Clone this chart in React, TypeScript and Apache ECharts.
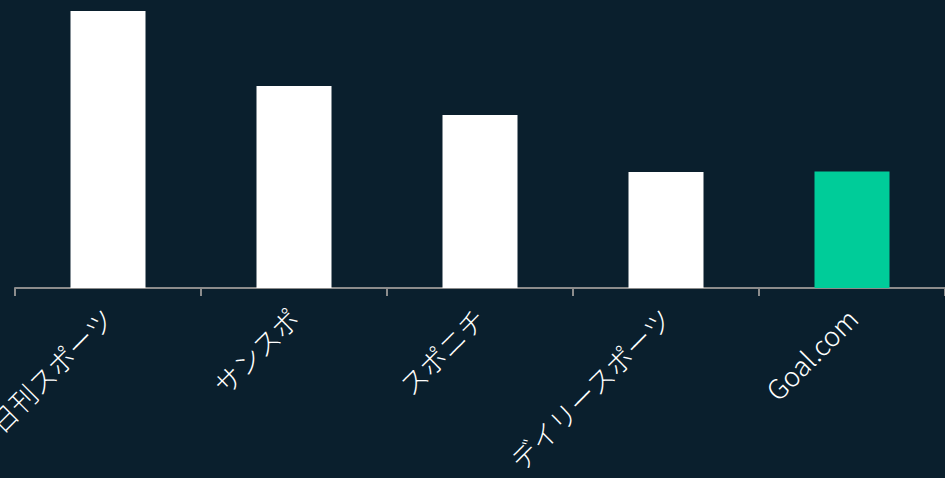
import React, { useEffect, useRef } from "react";
import * as echarts from "echarts";

const categories = ["日刊スポーツ", "サンスポ", "スポニチ", "デイリースポーツ", "Goal.com"];
const values = [277, 202, 173, 116, 116.5];
const highlightIndex = 4;

export default function App() {
  const ref = useRef<HTMLDivElement>(null);
  useEffect(() => {
    document.body.style.margin = "0";
    document.body.style.background = "#0a1f2d";
    const chart = echarts.init(ref.current!, null, { renderer: "svg" });
    chart.setOption({
      animation: false,
      backgroundColor: "#0a1f2d",
      grid: {
        left: 15,
        right: 0,
        top: 11,
        bottom: 190,
        containLabel: false,
        outerBoundsMode: "none",
      },
      xAxis: {
        type: "category",
        data: categories,
        axisLine: { lineStyle: { color: "#8c8c8c", width: 2 } },
        axisTick: { show: true, length: 8, lineStyle: { color: "#8c8c8c", width: 2 } },
        axisLabel: {
          rotate: 45,
          interval: 0,
          color: "#ffffff",
          fontSize: 27,
          fontWeight: 300,
          margin: 25,
          fontFamily: "'Noto Sans CJK JP', 'Noto Sans', sans-serif",
        },
      },
      yAxis: {
        type: "value",
        min: 0,
        max: 277,
        show: false,
        splitLine: { show: false },
      },
      series: [
        {
          type: "bar",
          barWidth: 75,
          data: values.map((v, i) => ({
            value: v,
            itemStyle: { color: i === highlightIndex ? "#00cc99" : "#ffffff" },
          })),
        },
      ],
    });
    return () => chart.dispose();
  }, []);
  return (
    <div
      ref={ref}
      style={{ position: "fixed", left: 0, top: 0, width: 945, height: 478 }}
    />
  );
}
